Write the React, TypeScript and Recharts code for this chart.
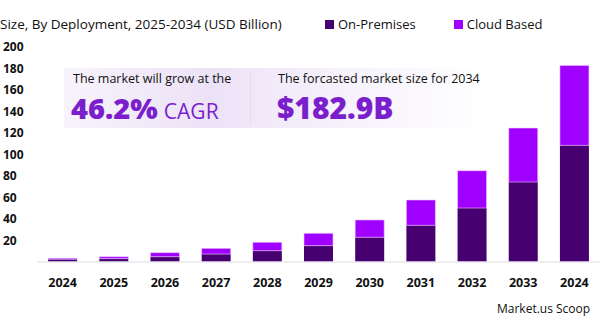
import { BarChart, Bar, XAxis, YAxis } from "recharts";

/* ================= DATA ================= */
const years = ["2024", "2025", "2026", "2027", "2028", "2029", "2030", "2031", "2032", "2033", "2024"];
const onPremises = [2.6, 3.1, 4.9, 7.4, 10.5, 15.2, 23.0, 34.1, 50.2, 74.4, 108.5];
const cloudBased = [0.9, 1.8, 3.8, 5.3, 7.8, 11.5, 16.1, 23.6, 34.7, 50.2, 74.4];
const yTicks = [20, 40, 60, 80, 100, 120, 140, 160, 180, 200];
const seriesNames = ["On-Premises", "Cloud Based"];

const data = years.map((year, i) => ({
  year,
  onPremises: onPremises[i],
  cloudBased: cloudBased[i],
}));

const colors = {
  onPrem: "#47006f",
  cloud: "#a000ff",
  edge: "#f0c8ff",
  text: "#111111",
  accent: "#7a1fcb",
  axis: "#e8e8ee",
};

const font = "'Open Sans', sans-serif";

/* ================= TICKS ================= */
function YTick({ y, payload }: any) {
  return (
    <text x={3} y={y} dy={4} textAnchor="start" fontSize={12} fontWeight={700} fill={colors.text} fontFamily={font}>
      {payload.value}
    </text>
  );
}

/* ================= COMPONENT ================= */
export default function App() {
  const legendColors = [colors.onPrem, colors.cloud];

  return (
    <div style={{ position: "absolute", left: 0, top: 0, width: 600, height: 325, background: "#fff", fontFamily: font, overflow: "hidden", lineHeight: 1 }}>
      <div style={{ position: "absolute", left: 0, top: 18, fontSize: 13.5, color: colors.text, whiteSpace: "nowrap" }}>
        Size, By Deployment, 2025-2034 (USD Billion)
      </div>

      {/* -------- Legend -------- */}
      <div style={{ position: "absolute", left: 325, top: 18, display: "flex", gap: 38, fontSize: 13, color: colors.text, whiteSpace: "nowrap" }}>
        {seriesNames.map((name, i) => (
          <div key={name} style={{ display: "flex", alignItems: "center", gap: 4 }}>
            <span style={{ width: 9, height: 9, background: legendColors[i], display: "inline-block" }} />
            {name}
          </div>
        ))}
      </div>

      <BarChart
        width={600}
        height={325}
        data={data}
        margin={{ top: 47, right: 0, left: 0, bottom: 33 }}
        barCategoryGap="21.7%"
      >
        <XAxis
          dataKey="year"
          height={30}
          tickLine={false}
          axisLine={{ stroke: colors.axis, strokeWidth: 1.5 }}
          tick={{ fill: colors.text, fontSize: 12.5, fontWeight: 700, fontFamily: font }}
          interval={0}
          dy={8}
        />
        <YAxis
          width={37}
          domain={[0, 200]}
          ticks={yTicks}
          interval={0}
          axisLine={false}
          tickLine={false}
          tick={<YTick />}
        />
        <Bar dataKey="onPremises" name="On-Premises" stackId="a" fill={colors.onPrem} isAnimationActive={false} />
        <Bar dataKey="cloudBased" name="Cloud Based" stackId="a" fill={colors.cloud} stroke={colors.edge} strokeWidth={0.6} isAnimationActive={false} />
      </BarChart>

      {/* -------- Info box -------- */}
      <div
        style={{
          position: "absolute",
          left: 64,
          top: 68,
          width: 420,
          height: 60,
          background: "linear-gradient(90deg, rgba(236,226,247,0.4) 0%, rgba(236,226,247,1) 35%, rgba(240,232,249,0.8) 55%, rgba(255,255,255,0) 100%)",
        }}
      />
      <div style={{ position: "absolute", left: 250, top: 72, width: 1, height: 52, background: "#e2dbe9" }} />
      <div style={{ position: "absolute", left: 73, top: 73, fontSize: 12.5, color: colors.text, whiteSpace: "nowrap" }}>
        The market will grow at the
      </div>
      <div style={{ position: "absolute", left: 71, top: 93, color: colors.accent, whiteSpace: "nowrap", display: "flex", alignItems: "baseline", gap: 6 }}>
        <span style={{ fontSize: 29, fontWeight: 800 }}>46.2%</span>
        <span style={{ fontSize: 21 }}>CAGR</span>
      </div>
      <div style={{ position: "absolute", left: 278, top: 73, fontSize: 12.5, color: colors.text, whiteSpace: "nowrap" }}>
        The forcasted market size for 2034
      </div>
      <div style={{ position: "absolute", left: 277, top: 93, color: colors.accent, fontSize: 30, fontWeight: 800, whiteSpace: "nowrap" }}>
        $182.9B
      </div>

      <div style={{ position: "absolute", left: 497, top: 303, fontSize: 12, color: colors.text, whiteSpace: "nowrap" }}>
        Market.us Scoop
      </div>
    </div>
  );
}
